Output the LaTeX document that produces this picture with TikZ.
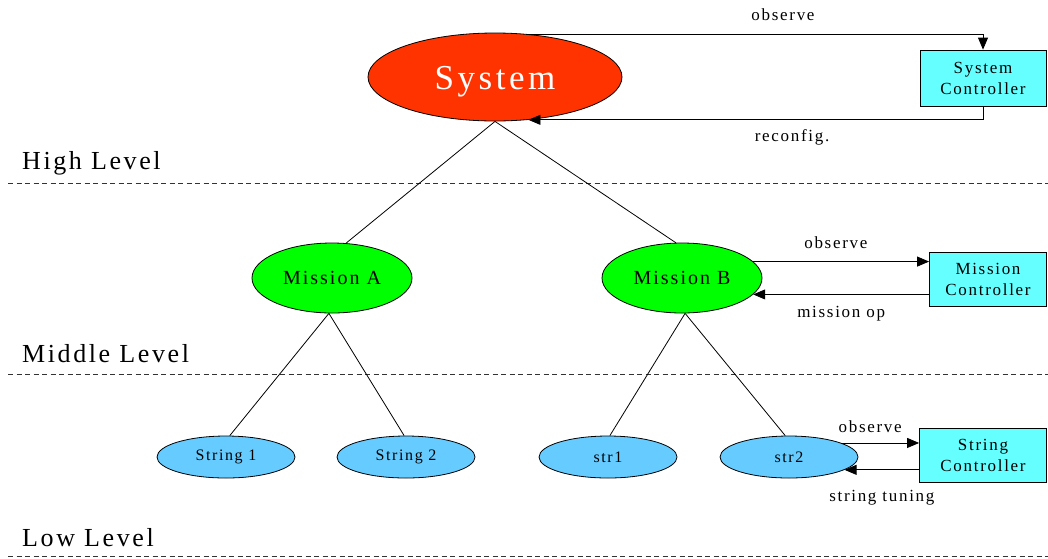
\documentclass[tikz,border=0pt]{standalone}
\usepackage{fontspec}
\setmainfont[LetterSpace=10]{Liberation Serif}
\usetikzlibrary{shapes.geometric, arrows.meta}

\definecolor{rougesys}{HTML}{FF3300}
\definecolor{vertmis}{HTML}{00FF00}
\definecolor{bleustr}{HTML}{66CCFF}
\definecolor{cyanctl}{HTML}{66FFFF}

\begin{document}
\begin{tikzpicture}[x=1pt, y=-1pt]
			\tikzset{noeud/.style={ellipse, draw=black, line width=0.8pt, text centered, inner sep=0pt},
			corde/.style={noeud, fill=bleustr, minimum width=138pt, minimum height=42pt, font=\fontsize{16}{19}\selectfont},
			mission/.style={noeud, fill=vertmis, minimum width=160pt, minimum height=70pt, font=\fontsize{20}{24}\selectfont},
			controleur/.style={rectangle, draw=black, line width=0.8pt, fill=cyanctl, align=center, inner sep=0pt, font=\fontsize{17}{21}\selectfont},
			fleche/.style={line width=0.8pt, -{Triangle[length=12pt, width=10pt]}},
			trait/.style={line width=0.8pt},
			etiquette/.style={inner sep=0pt, font=\fontsize{17}{20}\selectfont},
			niveau/.style={anchor=base west, inner sep=0pt, font=\fontsize{26}{30}\selectfont},
			separation/.style={line width=0.6pt, draw=black!80, dash pattern=on 5pt off 3.5pt}};

			\useasboundingbox (0, 0) rectangle (1048, 558);

			\node[noeud, fill=rougesys, text=white, minimum width=254pt, minimum height=88pt, text height=25.6pt, text depth=0pt, font=\fontsize{35}{40}\selectfont] (sys) at (495, 77) {System};
			\node[controleur, minimum width=126pt, minimum height=56pt] (csys) at (983, 78) {System\\Controller};

			\node[mission] (ma) at (332, 278) {Mission A};
			\node[mission] (mb) at (682, 278) {Mission B};
			\node[controleur, minimum width=117pt, minimum height=54pt] (cmis) at (988, 279) {Mission\\Controller};

			\node[corde] (s1) at (226, 457) {String 1};
			\node[corde] (s2) at (406, 457) {String 2};
			\node[corde] (str1) at (608, 457) {str1};
			\node[corde] (str2) at (789, 457) {str2};
			\node[controleur, minimum width=127pt, minimum height=54pt] (cstr) at (983, 455) {String\\Controller};

			\node[niveau] (hl) at (22, 169) {High Level};
			\node[niveau] (ml) at (22, 362) {Middle Level};
			\node[niveau] (ll) at (22, 546) {Low Level};

			\draw[separation] (8, 183) -- (1048, 183);
			\draw[separation] (8, 374) -- (1048, 374);
			\draw[separation] (8, 556) -- (1048, 556);

			\draw[trait] (sys.south) -- (ma.68);
			\draw[trait] (sys.south) -- (mb.100);
			\draw[trait] (ma.-95) -- (s1.80);
			\draw[trait] (ma.-95) -- (s2.95);
			\draw[trait] (mb.-85) -- (str1.85);
			\draw[trait] (mb.-85) -- (str2.100);

			\draw[fleche] (sys.52) -| (csys.north) node[etiquette, pos=0.28, above=13pt] {observe};
			\draw[fleche] (csys.south) |- (sys.-52) node[etiquette, pos=0.71, below=9pt] {reconfig.};

			\draw[fleche] (mb.13) -- (mb.13 -| cmis.west) node[etiquette, pos=0.47, above=12.5pt] {observe};
			\draw[fleche] (cmis.west |- mb.-13) -- (mb.-13) node[etiquette, pos=0.5, below=11pt] {mission op};

			\draw[fleche] (str2.15) -- (str2.15 -| cstr.west) node[etiquette, pos=0.37, above=10pt] {observe};
			\draw[fleche] (cstr.west |- str2.-13) -- (str2.-13) node[etiquette, pos=0.5, below=20pt] {string tuning};
		\end{tikzpicture}
\end{document}
